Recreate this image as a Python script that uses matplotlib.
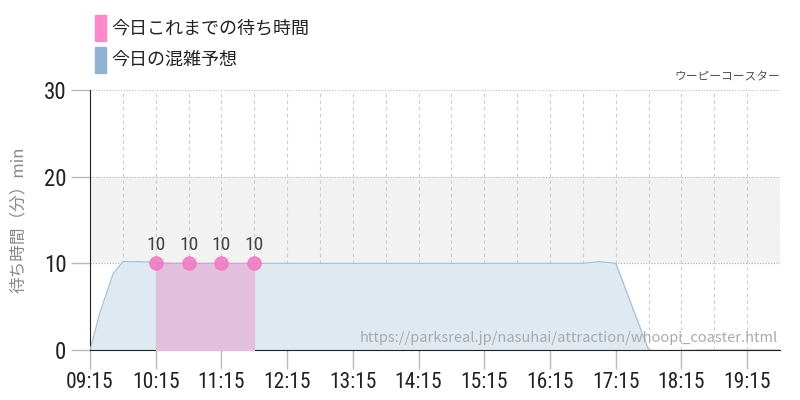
import matplotlib
matplotlib.use('Agg')
import matplotlib.pyplot as plt
from matplotlib.patches import Rectangle

plt.rcParams['font.family'] = ['Noto Sans CJK JP', 'DejaVu Sans']
num_font = ['Roboto Condensed', 'Barlow Semi Condensed', 'DejaVu Sans']

# 予想（時刻は時間単位の数値）
forecast_t = [9.25, 9.4, 9.6, 9.75, 10.0, 10.25, 10.5, 11.0, 12.0, 13.0, 14.0, 15.0, 16.0,
              16.75, 17.0, 17.25, 17.5, 17.75, 18.0, 18.25, 18.5, 19.0, 19.5, 19.75]
forecast_v = [0, 4.3, 8.8, 10.2, 10.2, 10.1, 10.0, 10.0, 10.0, 10.0, 10.0, 10.0, 10.0,
              10.0, 10.2, 10.0, 5.0, 0.0, -0.2, -0.05, 0, 0, 0, 0]
# 実績
actual_t = [10.25, 10.75, 11.25, 11.75]
actual_v = [10, 10, 10, 10]

tick_pos = [9.25, 10.25, 11.25, 12.25, 13.25, 14.25, 15.25, 16.25, 17.25, 18.25, 19.25]
tick_lbl = ['09:15', '10:15', '11:15', '12:15', '13:15', '14:15', '15:15',
            '16:15', '17:15', '18:15', '19:15']

fig = plt.figure(figsize=(8, 4), dpi=100)
ax = fig.add_axes([0.1125, 0.125, 0.8625, 0.65])
ax.set_xlim(9.25, 19.75)
ax.set_ylim(0, 30)

# 背景の帯
ax.axhspan(10, 20, color='#f2f2f2', zorder=0)
for y in [10, 20, 30]:
    ax.axhline(y, color='#bbbbbb', lw=0.8, ls=(0, (1, 1.5)), zorder=1)
for i in range(1, 22):
    x = 9.25 + i * 0.5
    ax.axvline(x, color='#cccccc', lw=0.8, ls=(0, (3, 3)), zorder=1)

ax.fill_between(forecast_t, forecast_v, 0, color='#dfe9f2', zorder=2)
ax.plot(forecast_t, forecast_v, color='#9fc0da', lw=0.8, zorder=3)

ax.fill_between(actual_t, actual_v, 0, color='#e2c0dd', zorder=4)
ax.plot(actual_t, actual_v, color='#e89ccd', lw=0.8, zorder=5)
ax.scatter(actual_t, actual_v, s=90, color='#f07cc2', alpha=0.9, zorder=6, clip_on=False)
for t, v in zip(actual_t, actual_v):
    ax.text(t, v + 1.1, str(v), ha='center', va='bottom', fontsize=14,
            color='#444444', family=num_font)

ax.set_xticks(tick_pos)
ax.set_xticklabels(tick_lbl)
ax.set_yticks([0, 10, 20, 30])
ax.tick_params(axis='both', colors='#bbbbbb', labelcolor='#222222', width=1)
ax.tick_params(axis='x', length=14, pad=2, labelsize=15.5)
ax.tick_params(axis='y', length=14, pad=3, labelsize=16.5)
for lab in ax.get_xticklabels() + ax.get_yticklabels():
    lab.set_family(num_font)

for s in ['top', 'right']:
    ax.spines[s].set_visible(False)
ax.spines['left'].set_color('#222222')
ax.spines['bottom'].set_color('#222222')

ax.set_ylabel('待ち時間（分）min', color='#888888', fontsize=12, labelpad=12)

fig.text(0.975, 0.8075, 'ウーピーコースター', ha='right', va='center', fontsize=8.5, color='#555555')
ax.text(0.997, 0.02, 'https://parksreal.jp/nasuhai/attraction/whoopi_coaster.html',
        transform=ax.transAxes, ha='right', va='bottom', fontsize=10.5, color='#aaaaaa', zorder=7)

# 凡例
fig.patches.append(Rectangle((0.119, 0.8975), 0.0135, 0.065, color='#ff88cc', transform=fig.transFigure))
fig.patches.append(Rectangle((0.119, 0.8175), 0.0135, 0.065, color='#8fb3d0', transform=fig.transFigure))
fig.text(0.139, 0.93, '今日これまでの待ち時間', va='center', fontsize=13, color='#222222')
fig.text(0.139, 0.85, '今日の混雑予想', va='center', fontsize=13, color='#222222')

fig.savefig('out.png', dpi=100)
